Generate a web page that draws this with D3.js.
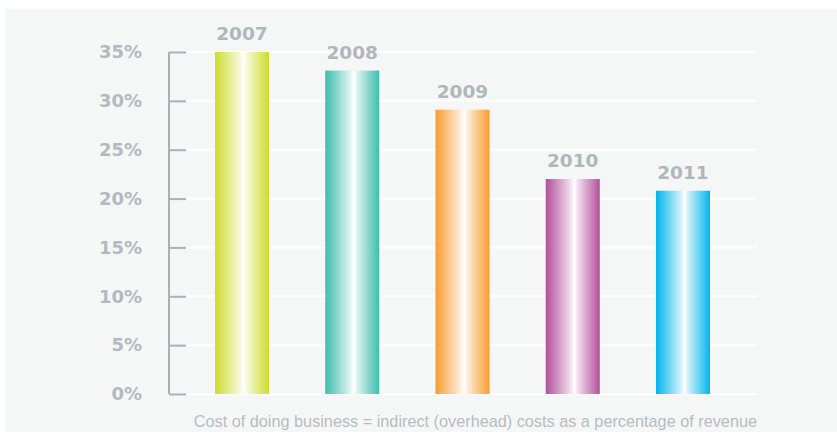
<!DOCTYPE html>
<html>
<head>
<meta charset="utf-8">
<script src="https://cdn.jsdelivr.net/npm/d3@7"></script>
<style>
  body { margin: 0; background: #fff; }
  svg { display: block; }
</style>
</head>
<body>
<div id="chart"></div>
<script>
const years = ['2007', '2008', '2009', '2010', '2011'];
const costPct = [35, 33.1, 29.1, 22.0, 20.8];
const barColors = ['#cfdc2c', '#3ebdae', '#f79d2f', '#b44f9c', '#00b5ec'];
const yTicks = [0, 5, 10, 15, 20, 25, 30, 35];
const caption = 'Cost of doing business = indirect (overhead) costs as a percentage of revenue';

const svgWidth = 837, svgHeight = 437;
const margin = { top: 52, right: 80, bottom: 43, left: 186 };
const width = svgWidth - margin.left - margin.right;
const height = svgHeight - margin.top - margin.bottom;

const svg = d3.select('#chart').append('svg')
  .attr('width', svgWidth)
  .attr('height', svgHeight);

svg.append('rect')
  .attr('x', 5).attr('y', 9)
  .attr('width', svgWidth - 5).attr('height', 423)
  .attr('fill', '#f5f7f7');

const defs = svg.append('defs');
barColors.forEach((c, i) => {
  const pale = d3.interpolateRgb(c, '#ffffff');
  const g = defs.append('linearGradient')
    .attr('id', 'grad' + i)
    .attr('x1', '0%').attr('x2', '100%').attr('y1', '0%').attr('y2', '0%');
  [[0, c], [0.2, pale(0.35)], [0.45, pale(0.8)], [0.53, '#ffffff'], [0.6, pale(0.8)], [0.8, pale(0.4)], [1, c]]
    .forEach(s => g.append('stop').attr('offset', s[0]).attr('stop-color', s[1]));
});

const group = svg.append('g')
  .attr('transform', 'translate(' + margin.left + ',' + margin.top + ')');

const x = d3.scaleBand().domain(years).range([0, 553]).paddingInner(0.51).paddingOuter(0.263);
const y = d3.scaleLinear().domain([0, 35]).range([height, 0]);

// white gridlines
group.append('g')
  .selectAll('line')
  .data(yTicks)
  .join('line')
  .attr('x1', 0).attr('x2', 571)
  .attr('y1', d => y(d)).attr('y2', d => y(d))
  .attr('stroke', '#ffffff')
  .attr('stroke-width', 2);

// y axis
const yAxis = group.append('g')
  .attr('transform', 'translate(-17,0)')
  .call(d3.axisLeft(y).tickValues(yTicks).tickSize(-17).tickPadding(27).tickFormat(d => d + '%'));
yAxis.select('.domain').attr('stroke', '#a9b0b8').attr('stroke-width', 2)
  .attr('d', 'M0,' + y(35) + 'V' + y(0));
yAxis.selectAll('.tick line').attr('stroke', '#a9b0b8').attr('stroke-width', 2);
yAxis.selectAll('.tick text')
  .attr('fill', '#b3b9bf')
  .attr('font-family', 'DejaVu Sans, sans-serif')
  .attr('font-weight', 'bold')
  .attr('font-size', '18px');

// bars
group.selectAll('.bar')
  .data(costPct)
  .join('rect')
  .attr('class', 'bar')
  .attr('x', (d, i) => x(years[i]))
  .attr('width', x.bandwidth())
  .attr('y', d => y(d))
  .attr('height', d => height - y(d))
  .attr('fill', (d, i) => 'url(#grad' + i + ')');

// year labels
group.selectAll('.year')
  .data(costPct)
  .join('text')
  .attr('class', 'year')
  .attr('x', (d, i) => x(years[i]) + x.bandwidth() / 2)
  .attr('y', d => y(d) - 12)
  .attr('text-anchor', 'middle')
  .attr('fill', '#b0b6bc')
  .attr('font-family', 'DejaVu Sans, sans-serif')
  .attr('font-weight', 'bold')
  .attr('font-size', '18.5px')
  .text((d, i) => years[i]);

svg.append('text')
  .attr('x', 757)
  .attr('y', 427)
  .attr('text-anchor', 'end')
  .attr('fill', '#b7bcc2')
  .attr('font-family', 'Liberation Sans, Arial, sans-serif')
  .attr('font-size', '16.25px')
  .text(caption);
</script>
</body>
</html>
